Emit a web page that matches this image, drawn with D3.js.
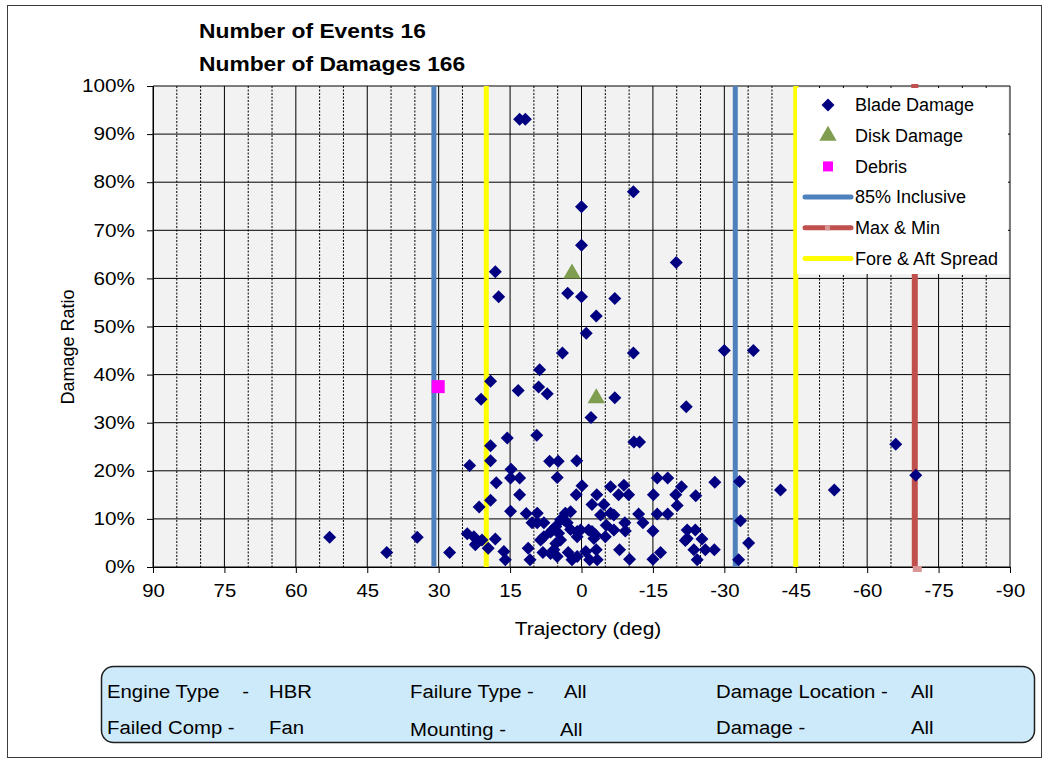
<!DOCTYPE html>
<html>
<head>
<meta charset="utf-8">
<script src="https://cdn.jsdelivr.net/npm/d3@7"></script>
<style>
  body { margin: 0; background: #fff; }
  svg { display: block; }
  text { font-family: Arial, "Liberation Sans", sans-serif; fill: #000; white-space: pre; }
</style>
</head>
<body>
<svg id="chart" width="1049" height="764"></svg>
<script>
// ---- chart data -------------------------------------------------------
const eventCount = 16;
const damageCount = 166;

const xTickValues = [90, 75, 60, 45, 30, 15, 0, -15, -30, -45, -60, -75, -90];
const yTickValues = [0, 10, 20, 30, 40, 50, 60, 70, 80, 90, 100];

// [trajectory deg, damage ratio %]
const bladeDamage = [
  [13.0, 93.1], [11.8, 93.1], [-10.9, 78.0], [0, 74.9], [0, 66.9], [-19.9, 63.3],
  [18.1, 61.4], [17.4, 56.2], [2.9, 56.9], [0, 56.2], [-7.0, 55.8], [-3.1, 52.2],
  [-1.0, 48.6], [4.0, 44.5], [-10.9, 44.5], [-30.0, 45.0], [-36.1, 45.0], [8.8, 41.0],
  [19.1, 38.6], [21.1, 34.9], [13.3, 36.7], [9.0, 37.4], [7.2, 36.0], [-7.0, 35.2],
  [-22.0, 33.3], [-2.0, 31.1], [-11.0, 26.0], [-12.2, 26.0], [15.6, 26.8], [9.4, 27.4],
  [-66.0, 25.5], [19.1, 25.2], [19.1, 22.1], [23.5, 21.1], [6.7, 22.0], [4.9, 22.0],
  [1.0, 22.1],
  [14.8, 20.3], [14.9, 18.5], [13.0, 18.5], [17.9, 17.5], [5.1, 18.6], [-70.2, 19.1],
  [-0.1, 16.9], [-6.1, 16.7], [-8.9, 17.0], [-15.9, 18.5], [-18.1, 18.5], [-21.0, 16.7],
  [-28.0, 17.6], [-33.2, 17.8], [-41.8, 16.0], [-53.1, 16.0],
  [13.0, 15.0], [1.1, 15.0], [-3.2, 15.0], [-7.8, 15.0], [-9.9, 15.0], [-15.1, 15.0],
  [-19.8, 15.0], [-24.0, 14.8],
  [19.1, 13.9], [21.5, 12.5], [-2.2, 13.0], [-4.7, 13.0], [-20.1, 12.8], [14.9, 11.6],
  [11.6, 11.1], [9.3, 11.2], [3.4, 11.2], [2.3, 11.5], [-6.1, 11.2], [-6.8, 10.8],
  [-12.0, 11.0], [-15.9, 11.0], [-18.1, 11.0], [-4.0, 10.8],
  [10.4, 9.2], [9.3, 9.2], [7.9, 9.2], [4.4, 9.8], [3.7, 9.8], [3.0, 9.2], [5.4, 8.4],
  [6.1, 7.7], [2.3, 7.8], [0.9, 7.4], [0.2, 7.7], [-1.5, 7.7], [-2.2, 7.4], [-5.2, 8.7],
  [-6.8, 7.7], [-9.1, 9.2], [-9.2, 7.5], [-12.9, 9.2], [-15.0, 7.5], [-22.2, 7.7],
  [-23.9, 7.7], [-33.4, 9.6],
  [24.0, 6.9], [22.6, 6.3], [20.9, 5.6], [18.1, 5.8], [8.6, 5.6], [7.9, 6.3], [4.4, 5.6],
  [0.9, 6.3], [-2.6, 5.9], [-5.0, 6.3], [-22.2, 5.9], [-25.3, 5.8], [-21.8, 5.5],
  [22.1, 4.9], [5.4, 4.9], [-35.1, 5.0], [4.8, 7.0], [6.5, 7.3], [-2.9, 6.7],
  [27.7, 3.0], [19.6, 3.9], [16.3, 3.2], [16.0, 1.5], [11.2, 3.9], [10.8, 1.5], [8.1, 3.0],
  [5.8, 3.6], [5.1, 2.2], [2.8, 3.0], [0.9, 2.2], [-0.9, 3.2], [-1.7, 1.5], [-3.1, 3.6],
  [-3.3, 1.5], [-8.0, 3.6], [-10.1, 1.6], [-15.0, 1.6], [-16.6, 3.0], [-23.6, 3.6],
  [-24.3, 1.5], [-26.0, 3.6], [-27.9, 3.6], [-33.0, 1.5], [52.9, 6.2], [40.9, 3.0],
  [34.5, 6.2], [22.3, 4.6], [6.5, 2.8], [2.0, 1.5]
];
const diskDamage = [[2.0, 61.0], [-3.1, 35.1]];
const debris = [[30.1, 37.5]];

// vertical reference lines (trajectory, deg)
const inclusive85 = [31.0, -32.3];
const maxMin = [-70];
const foreAftSpread = [20, -45];

const legendLabels = ["Blade Damage", "Disk Damage", "Debris", "85% Inclusive", "Max & Min", "Fore & Aft Spread"];

const infoRow1 = [["Engine Type    -", "HBR"], ["Failure Type -", "All"], ["Damage Location -", "All"]];
const infoRow2 = [["Failed Comp -", "Fan"], ["Mounting -", "All"], ["Damage -", "All"]];

// ---- drawing ----------------------------------------------------------
const svg = d3.select("#chart");
const W = 1049, H = 764;
const plot = { left: 153, right: 1010, top: 86, bottom: 567 };

const x = d3.scaleLinear().domain([90, -90]).range([plot.left, plot.right]);
const y = d3.scaleLinear().domain([0, 100]).range([plot.bottom, plot.top]);

const colors = {
  blade: "#000080", disk: "#7f9d4e", debris: "#ff00ff",
  inclusive: "#4f81bd", maxMin: "#c0504d", maxMinMarker: "#d99694", spread: "#ffff00"
};

// text helper: anchored at (tx,ty) and widened horizontally by sx
function label(parent, tx, ty, str, size, sx, opts = {}) {
  const t = parent.append("text")
    .attr("transform", `translate(${tx},${ty}) scale(${sx},1)`)
    .attr("font-size", size)
    .text(str);
  if (opts.anchor) t.attr("text-anchor", opts.anchor);
  if (opts.weight) t.attr("font-weight", opts.weight);
  if (opts.dy) t.attr("dy", opts.dy);
  return t;
}

svg.append("rect").attr("width", W).attr("height", H).attr("fill", "#fff");
// chart frame
svg.append("rect").attr("x", 7.5).attr("y", 5.5).attr("width", 1034).attr("height", 752)
  .attr("fill", "none").attr("stroke", "#3c3c3c").attr("stroke-width", 1);

// titles
label(svg, 199, 38, `Number of Events ${eventCount}`, 19.5, 1.17, { weight: "bold" });
label(svg, 199, 71, `Number of Damages ${damageCount}`, 19.5, 1.17, { weight: "bold" });

// plot background
svg.append("rect").attr("x", plot.left).attr("y", plot.top)
  .attr("width", plot.right - plot.left).attr("height", plot.bottom - plot.top)
  .attr("fill", "#f2f2f2");

// minor (5 deg) dashed gridlines
const minorX = d3.range(85, -90, -5).filter(v => v % 15 !== 0);
svg.append("g").selectAll("line").data(minorX).join("line")
  .attr("x1", d => x(d)).attr("x2", d => x(d))
  .attr("y1", plot.top).attr("y2", plot.bottom)
  .attr("stroke", "#000").attr("stroke-width", 1).attr("stroke-dasharray", "2,1.5");

// major gridlines
svg.append("g").selectAll("line").data(xTickValues).join("line")
  .attr("x1", d => x(d)).attr("x2", d => x(d))
  .attr("y1", plot.top).attr("y2", plot.bottom)
  .attr("stroke", "#000").attr("stroke-width", 1);
svg.append("g").selectAll("line").data(yTickValues).join("line")
  .attr("x1", plot.left).attr("x2", plot.right)
  .attr("y1", d => y(d)).attr("y2", d => y(d))
  .attr("stroke", "#000").attr("stroke-width", 1);

// axes
const xAxis = d3.axisBottom(x).tickValues(xTickValues).tickSize(6).tickFormat(d => String(d));
const gx = svg.append("g").attr("transform", `translate(0,${plot.bottom})`).call(xAxis);
gx.select(".domain").attr("stroke", "#000");
gx.selectAll(".tick line").attr("stroke", "#000");
gx.selectAll(".tick text")
  .attr("y", null).attr("dy", null)
  .attr("transform", "translate(0,30) scale(1.13,1)")
  .attr("font-size", 18).attr("font-family", "Arial, 'Liberation Sans', sans-serif");

const yAxis = d3.axisLeft(y).tickValues(yTickValues).tickSize(6).tickFormat(d => d + "%");
const gy = svg.append("g").attr("transform", `translate(${plot.left},0)`).call(yAxis);
gy.select(".domain").attr("stroke", "#000");
gy.selectAll(".tick line").attr("stroke", "#000");
gy.selectAll(".tick text")
  .attr("x", null)
  .attr("transform", "translate(-18,0) scale(1.15,1)")
  .attr("font-size", 18).attr("font-family", "Arial, 'Liberation Sans', sans-serif");

// axis titles
label(svg, 588, 635, "Trajectory (deg)", 18, 1.16, { anchor: "middle" });
svg.append("text").attr("transform", "translate(74,347) rotate(-90)").attr("text-anchor", "middle")
  .attr("font-size", 18).text("Damage Ratio");

// reference lines
const vlines = svg.append("g");
function refLine(values, color, width) {
  vlines.append("g").selectAll("line").data(values).join("line")
    .attr("x1", d => x(d)).attr("x2", d => x(d))
    .attr("y1", y(0)).attr("y2", y(100))
    .attr("stroke", color).attr("stroke-width", width);
}
refLine(inclusive85, colors.inclusive, 5);
refLine(foreAftSpread, colors.spread, 5);
refLine(maxMin, colors.maxMin, 6);
vlines.append("g").selectAll("rect").data(maxMin.map(v => [v, 100])).join("rect")
  .attr("x", d => x(d[0]) - 3.5).attr("y", d => y(d[1]) - 2).attr("width", 7).attr("height", 6)
  .attr("fill", colors.maxMin);
vlines.append("g").selectAll("rect").data(maxMin.map(v => [v, 0])).join("rect")
  .attr("x", d => x(d[0]) - 2).attr("y", d => y(d[1]) - 1).attr("width", 9).attr("height", 6)
  .attr("fill", colors.maxMinMarker);

// markers
const diamond = s => `M0,${-s}L${s},0L0,${s}L${-s},0Z`;
svg.append("g").selectAll("path").data(bladeDamage).join("path")
  .attr("d", diamond(6.5))
  .attr("transform", d => `translate(${x(d[0])},${y(d[1])})`)
  .attr("fill", colors.blade);

const tri = d3.symbol().type(d3.symbolTriangle).size(130);
svg.append("g").selectAll("path").data(diskDamage).join("path")
  .attr("d", tri())
  .attr("transform", d => `translate(${x(d[0])},${y(d[1])})`)
  .attr("fill", colors.disk);

svg.append("g").selectAll("rect").data(debris).join("rect")
  .attr("x", d => x(d[0]) - 6.5).attr("y", d => y(d[1]) - 6.5)
  .attr("width", 13).attr("height", 13).attr("fill", colors.debris);

// legend
const lg = svg.append("g");
lg.append("rect").attr("x", 797).attr("y", 88).attr("width", 211).attr("height", 186).attr("fill", "#fff");
const rowY = i => 105 + i * 30.7;
legendLabels.forEach((txt, i) => {
  label(lg, 855, rowY(i), txt, 18, 1.0, { dy: "0.35em" });
});
lg.append("path").attr("d", diamond(6.5)).attr("transform", `translate(828,${rowY(0)})`).attr("fill", colors.blade);
lg.append("path").attr("d", tri()).attr("transform", `translate(828,${rowY(1)})`).attr("fill", colors.disk);
lg.append("rect").attr("x", 823).attr("y", rowY(2) - 5).attr("width", 10).attr("height", 10).attr("fill", colors.debris);
[[colors.inclusive, 3], [colors.maxMin, 4], [colors.spread, 5]].forEach(([c, i]) => {
  lg.append("line").attr("x1", 805).attr("x2", 851).attr("y1", rowY(i)).attr("y2", rowY(i))
    .attr("stroke", c).attr("stroke-width", 5).attr("stroke-linecap", "round");
});
lg.append("rect").attr("x", 825).attr("y", rowY(4) - 2.5).attr("width", 5).attr("height", 5).attr("fill", colors.maxMinMarker);

// info panel
svg.append("rect").attr("x", 101.5).attr("y", 666.5).attr("width", 933).attr("height", 76)
  .attr("rx", 12).attr("ry", 12).attr("fill", "#cdeafb").attr("stroke", "#1f1f1f").attr("stroke-width", 1.5);
const labelX = [107, 410, 716], valueX = [269, 564, 911];
[[infoRow1, 692], [infoRow2, 728]].forEach(([row, yy]) => {
  row.forEach(([lab, val], j) => {
    const dy = (row === infoRow2 && j === 1) ? 2 : 0;
    label(svg, labelX[j], yy + dy, lab, 18, 1.13, { dy: "0.35em" });
    label(svg, valueX[j] - (row === infoRow2 && j === 1 ? 4 : 0), yy + dy, val, 18, 1.13, { dy: "0.35em" });
  });
});
</script>
</body>
</html>
